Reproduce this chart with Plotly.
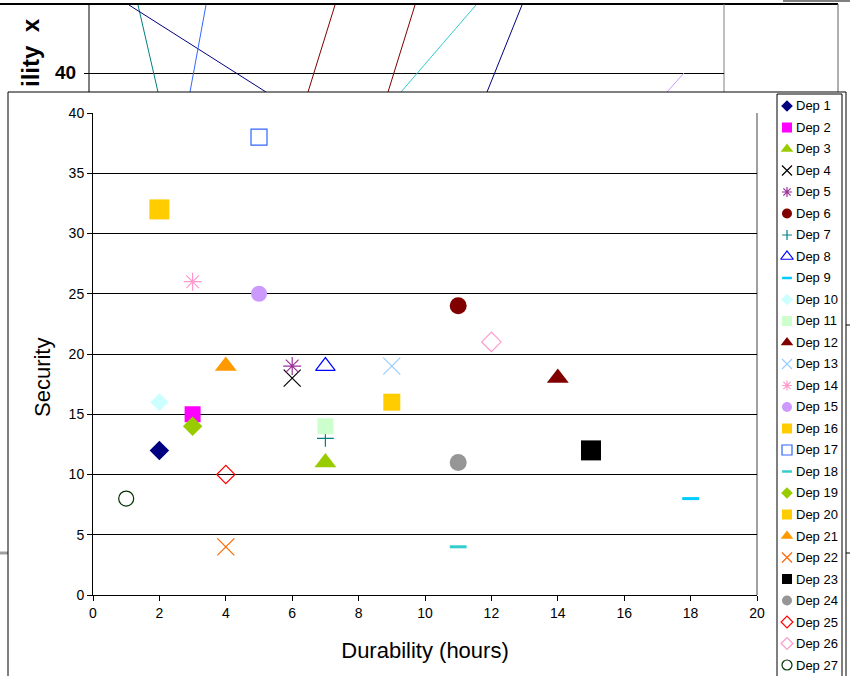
import plotly.graph_objects as go

W, H = 850, 676

# ---------------- data ----------------
names = [f"Dep {i}" for i in range(1, 28)]
durability = [2, 3, 7, 6, 6, 11, 7, 7, 18, 2, 7, 14, 9, 3, 5, 2, 5, 11, 3, 9, 4, 4, 15, 11, 4, 12, 1]
security = [12, 15, 11, 18, 19, 24, 13, 19, 8, 16, 14, 18, 19, 26, 25, 32, 38, 4, 14, 16, 19, 4, 12, 11, 10, 21, 8]

x_ticks = list(range(0, 21, 2))
y_ticks = list(range(0, 41, 5))

# ---------------- styles ----------------
symbols = ["diamond", "square", "triangle-up", "x-thin-open", "asterisk-open", "circle",
           "cross-thin-open", "triangle-up-open", "line-ew-open", "diamond", "square",
           "triangle-up", "x-thin-open", "asterisk-open", "circle", "square", "square-open",
           "line-ew-open", "diamond", "square", "triangle-up", "x-thin-open", "square",
           "circle", "diamond-open", "diamond-open", "circle-open"]
colors = ["#000080", "#FF00FF", "#99CC00", "#000000", "#993399", "#800000", "#008080",
          "#0000FF", "#00CCFF", "#CCFFFF", "#CCFFCC", "#800000", "#99CCFF", "#FF99CC",
          "#CC99FF", "#FFCC00", "#3366FF", "#33CCCC", "#99CC00", "#FFCC00", "#FF9900",
          "#FF6600", "#000000", "#969696", "#FF0000", "#FF99CC", "#003300"]
sizes = [15, 16, 19, 17, 15, 17, 12, 17, 12, 14, 16, 19, 17, 15, 16, 20, 16, 12, 15, 17,
         19, 17, 20, 17, 14, 15, 15]
legend_sizes = {"diamond": 9, "square": 10, "triangle-up": 11, "x-thin-open": 10,
                "asterisk-open": 8.5, "circle": 10, "cross-thin-open": 7, "line-ew-open": 7,
                "square-open": 10, "triangle-up-open": 11, "diamond-open": 9, "circle-open": 10}

FONT = "Liberation Sans, Arial, sans-serif"


def px(x):
    return x / W


def py(y):
    return 1 - y / H


fig = go.Figure()

# main scatter
for i, n in enumerate(names):
    sym = symbols[i]
    is_open = sym.endswith("-open")
    lw = 3 if sym.startswith("line-ew") else (1.2 if is_open else 0)
    fig.add_trace(go.Scatter(
        x=[durability[i]], y=[security[i]], mode="markers", name=n,
        marker=dict(symbol=sym, size=sizes[i], color=colors[i],
                    line=dict(color=colors[i], width=lw)),
        xaxis="x", yaxis="y", showlegend=False))

# legend drawn on its own small axes
leg_x_sym, leg_x_txt = 10, 17
for i, n in enumerate(names):
    sym = symbols[i]
    s = legend_sizes.get(sym, 9)
    is_open = sym.endswith("-open")
    lw = 2.5 if sym.startswith("line-ew") else (1.2 if is_open else 0)
    fig.add_trace(go.Scatter(
        x=[leg_x_sym], y=[i], mode="markers", name=n,
        marker=dict(symbol=sym, size=s, color=colors[i],
                    line=dict(color=colors[i], width=lw)),
        xaxis="x2", yaxis="y2", showlegend=False, hoverinfo="skip"))
    fig.add_annotation(x=leg_x_txt, y=i, xref="x2", yref="y2", text=n, showarrow=False,
                       xanchor="left", yanchor="middle",
                       font=dict(size=13, family=FONT, color="#000"))

shapes = []


# ---- occluded background chart (decoration) ----
def seg(x0, y0, x1, y1, color, width=1):
    shapes.append(dict(type="line", xref="paper", yref="paper",
                       x0=px(x0), y0=py(y0), x1=px(x1), y1=py(y1),
                       line=dict(color=color, width=width), layer="below"))


seg(0, 4, 838, 4, "#000000", 2)
seg(783, 1, 850, 1, "#808080", 2)
seg(89, 4, 89, 92, "#000000", 1)
seg(724, 4, 724, 92, "#808080", 1)
seg(838, 4, 838, 92, "#606060", 1)
seg(84, 73.5, 724, 73.5, "#000000", 1)
seg(138, 5, 158, 92, "#008080")
seg(129, 5, 266, 92, "#000080")
seg(206, 5, 190, 92, "#3366FF")
seg(335, 5, 308, 92, "#800000")
seg(415, 5, 388, 92, "#800000")
seg(476, 5, 401, 92, "#33CCCC")
seg(522, 5, 487, 92, "#000080")
seg(684, 73, 667, 92, "#CC99FF")
seg(0, 553, 8, 553, "#A0A0A0", 3)
seg(846, 325, 850, 325, "#000000", 1)
seg(846, 553, 850, 553, "#000000", 1)

# ---- main chart box ----
shapes.append(dict(type="rect", xref="paper", yref="paper",
                   x0=px(8), y0=py(680), x1=px(846), y1=py(92),
                   line=dict(color="#000000", width=1), fillcolor="#FFFFFF", layer="below"))
# plot-area right border (gray)
shapes.append(dict(type="line", xref="paper", yref="paper",
                   x0=px(757), y0=py(113), x1=px(757), y1=py(595),
                   line=dict(color="#A0A0A0", width=2), layer="below"))
# legend box
shapes.append(dict(type="rect", xref="paper", yref="paper",
                   x0=px(777), y0=py(680), x1=px(842), y1=py(94),
                   line=dict(color="#000000", width=1), fillcolor="#FFFFFF", layer="below"))
fig.update_layout(shapes=shapes)

# background text
fig.add_annotation(x=px(65), y=py(73), xref="paper", yref="paper", text="<b>40</b>",
                   xanchor="center", yanchor="middle",
                   showarrow=False, font=dict(size=19, family=FONT, color="#000"))
fig.add_annotation(x=px(30), y=py(53), xref="paper", yref="paper", text="<b>ility  x</b>",
                   xanchor="center", yanchor="middle",
                   textangle=-90, showarrow=False,
                   font=dict(size=24, family=FONT, color="#000"))

# y axis title
fig.add_annotation(x=px(42), y=py(378), xref="paper", yref="paper", text="Security",
                   xanchor="center", yanchor="middle",
                   textangle=-90, showarrow=False,
                   font=dict(size=22, family=FONT, color="#000"))

fig.update_layout(
    width=W, height=H,
    margin=dict(l=0, r=0, t=0, b=0, autoexpand=False),
    paper_bgcolor="#FFFFFF", plot_bgcolor="rgba(0,0,0,0)",
    font=dict(family=FONT, size=14, color="#000"),
    showlegend=False,
    xaxis=dict(domain=[px(93), px(757)], range=[0, 20], tickvals=x_ticks,
               showgrid=False, zeroline=False, showline=True, linecolor="#000",
               linewidth=1, ticks="outside", ticklen=5, tickcolor="#000",
               tickfont=dict(size=14, family=FONT, color="#000"),
               title=dict(text="Durability (hours)", standoff=22,
                          font=dict(size=22, family=FONT, color="#000"))),
    yaxis=dict(domain=[py(595), py(113)], range=[0, 40], tickvals=y_ticks,
               showgrid=True, gridcolor="#000000", gridwidth=1, zeroline=False,
               showline=True, linecolor="#000", linewidth=1, ticks="outside",
               ticklen=5, tickcolor="#000",
               tickfont=dict(size=14, family=FONT, color="#000")),
    xaxis2=dict(domain=[px(777), px(843)], range=[0, 66], visible=False,
                fixedrange=True),
    yaxis2=dict(domain=[py(676), py(94)], anchor="x2",
                range=[(676 - 94) / 21.5 - 12 / 21.5, -12 / 21.5], visible=False,
                fixedrange=True),
)

fig.write_html("out.html")
